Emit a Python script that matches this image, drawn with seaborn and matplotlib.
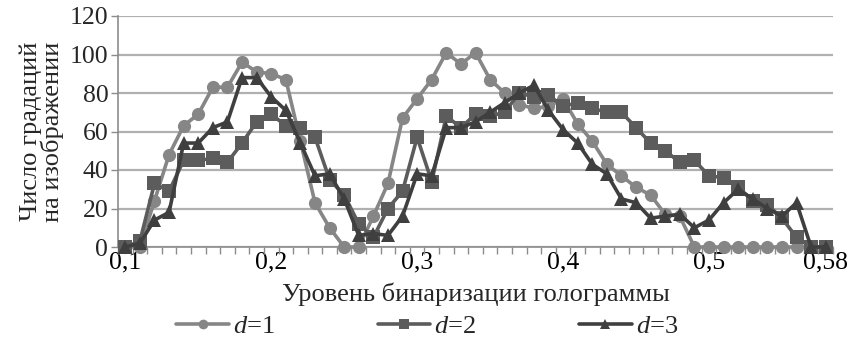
import numpy as np
import pandas as pd
import matplotlib
matplotlib.use("Agg")
import matplotlib.pyplot as plt
import seaborn as sns

# ---- data ----
levels = [round(0.10 + 0.01 * i, 2) for i in range(49)]
d1 = [0, 0, 24, 48, 63, 69, 83, 83, 96, 91, 90, 87, 55, 23, 10, 0, 0, 16, 33, 67,
      77, 87, 101, 95, 101, 87, 80, 74, 72, 73, 77, 64, 55, 43, 37, 31, 27, 17, 16, 0,
      0, 0, 0, 0, 0, 0, 0, 0, 0]
d2 = [0, 3, 33, 29, 45, 45, 46, 44, 54, 65, 69, 63, 62, 57, 35, 27, 12, 5, 20, 29,
      57, 34, 68, 62, 69, 68, 70, 80, 78, 79, 73, 75, 72, 70, 70, 62, 54, 50, 44, 45,
      37, 36, 31, 24, 22, 15, 5, 0, 0]
d3 = [0, 2, 14, 18, 54, 54, 62, 65, 88, 88, 78, 71, 54, 37, 38, 25, 6, 7, 6, 16,
      38, 37, 62, 62, 65, 70, 75, 80, 84, 71, 61, 54, 43, 38, 25, 23, 15, 16, 17, 10,
      14, 23, 30, 25, 20, 16, 23, 0, 0]
series_names = ["d=1", "d=2", "d=3"]
legend_labels = ["$d$=1", "$d$=2", "$d$=3"]
xtick_vals = [0.1, 0.2, 0.3, 0.4, 0.5, 0.58]
xtick_labels = ["0,1", "0,2", "0,3", "0,4", "0,5", "0,58"]
ytick_vals = [0, 20, 40, 60, 80, 100, 120]
xlabel = "Уровень бинаризации голограммы"
ylabel = "Число градаций\nна изображении"

df = pd.DataFrame({
    "level": levels * 3,
    "value": d1 + d2 + d3,
    "series": [series_names[0]] * 49 + [series_names[1]] * 49 + [series_names[2]] * 49,
})

sns.set_theme(style="white")
plt.rcParams["font.family"] = ["Liberation Serif", "DejaVu Serif"]
plt.rcParams["mathtext.fontset"] = "custom"
plt.rcParams["mathtext.it"] = "Liberation Serif:italic"
plt.rcParams["mathtext.rm"] = "Liberation Serif"

colors = {"d=1": "#868686", "d=2": "#5c5c5c", "d=3": "#3f3f3f"}
markers = {"d=1": "o", "d=2": "s", "d=3": "^"}

fig = plt.figure(figsize=(8.61, 3.47), dpi=100)
ax = fig.add_axes([118 / 861, 1 - 247 / 347, (833 - 118) / 861, (247 - 16) / 347])

sns.lineplot(data=df, x="level", y="value", hue="series", style="series",
             palette=colors, markers=markers, dashes=False, linewidth=2.6,
             markersize=9.5, markeredgewidth=0, ax=ax, legend=False, clip_on=False,
             zorder=3)

ax.set_xlim(0.095, 0.585)
ax.set_ylim(0, 120)
ax.set_yticks(ytick_vals)
ax.set_yticklabels([str(v) for v in ytick_vals], fontsize=18.5)
ax.set_xticks(xtick_vals)
ax.set_xticklabels(xtick_labels, fontsize=18.5)
ax.set_xticks([0.095 + 0.01 * k for k in range(50)], minor=True)
ax.tick_params(axis="x", which="major", length=0, pad=3, colors="black")
ax.tick_params(axis="x", which="minor", length=5, width=1, color="#8c8c8c",
               direction="out", bottom=True)
ax.tick_params(axis="y", which="major", length=5, width=1, color="#8c8c8c",
               direction="out", left=True, pad=2)

ax.grid(axis="y", color="#b0b0b0", linewidth=1.6)
ax.grid(axis="x", visible=False)
ax.set_axisbelow(True)
for side in ["top", "right"]:
    ax.spines[side].set_visible(False)
for side in ["left", "bottom"]:
    ax.spines[side].set_color("#8c8c8c")
    ax.spines[side].set_linewidth(1.2)

ax.set_xlabel(xlabel, fontsize=19, labelpad=7)
ax.set_ylabel(ylabel, fontsize=19, labelpad=4, linespacing=0.9)

handles = []
for name in series_names:
    h, = ax.plot([], [], color=colors[name], marker=markers[name], linewidth=2.6,
                 markersize=7, markeredgewidth=0)
    handles.append(h)
fig.legend(handles, legend_labels, loc="center", bbox_to_anchor=(0.496, 0.06),
           ncol=3, frameon=False, fontsize=19, handlelength=2.0, columnspacing=3.9,
           handletextpad=0.15, borderpad=0)

fig.savefig("out.png", dpi=100)
